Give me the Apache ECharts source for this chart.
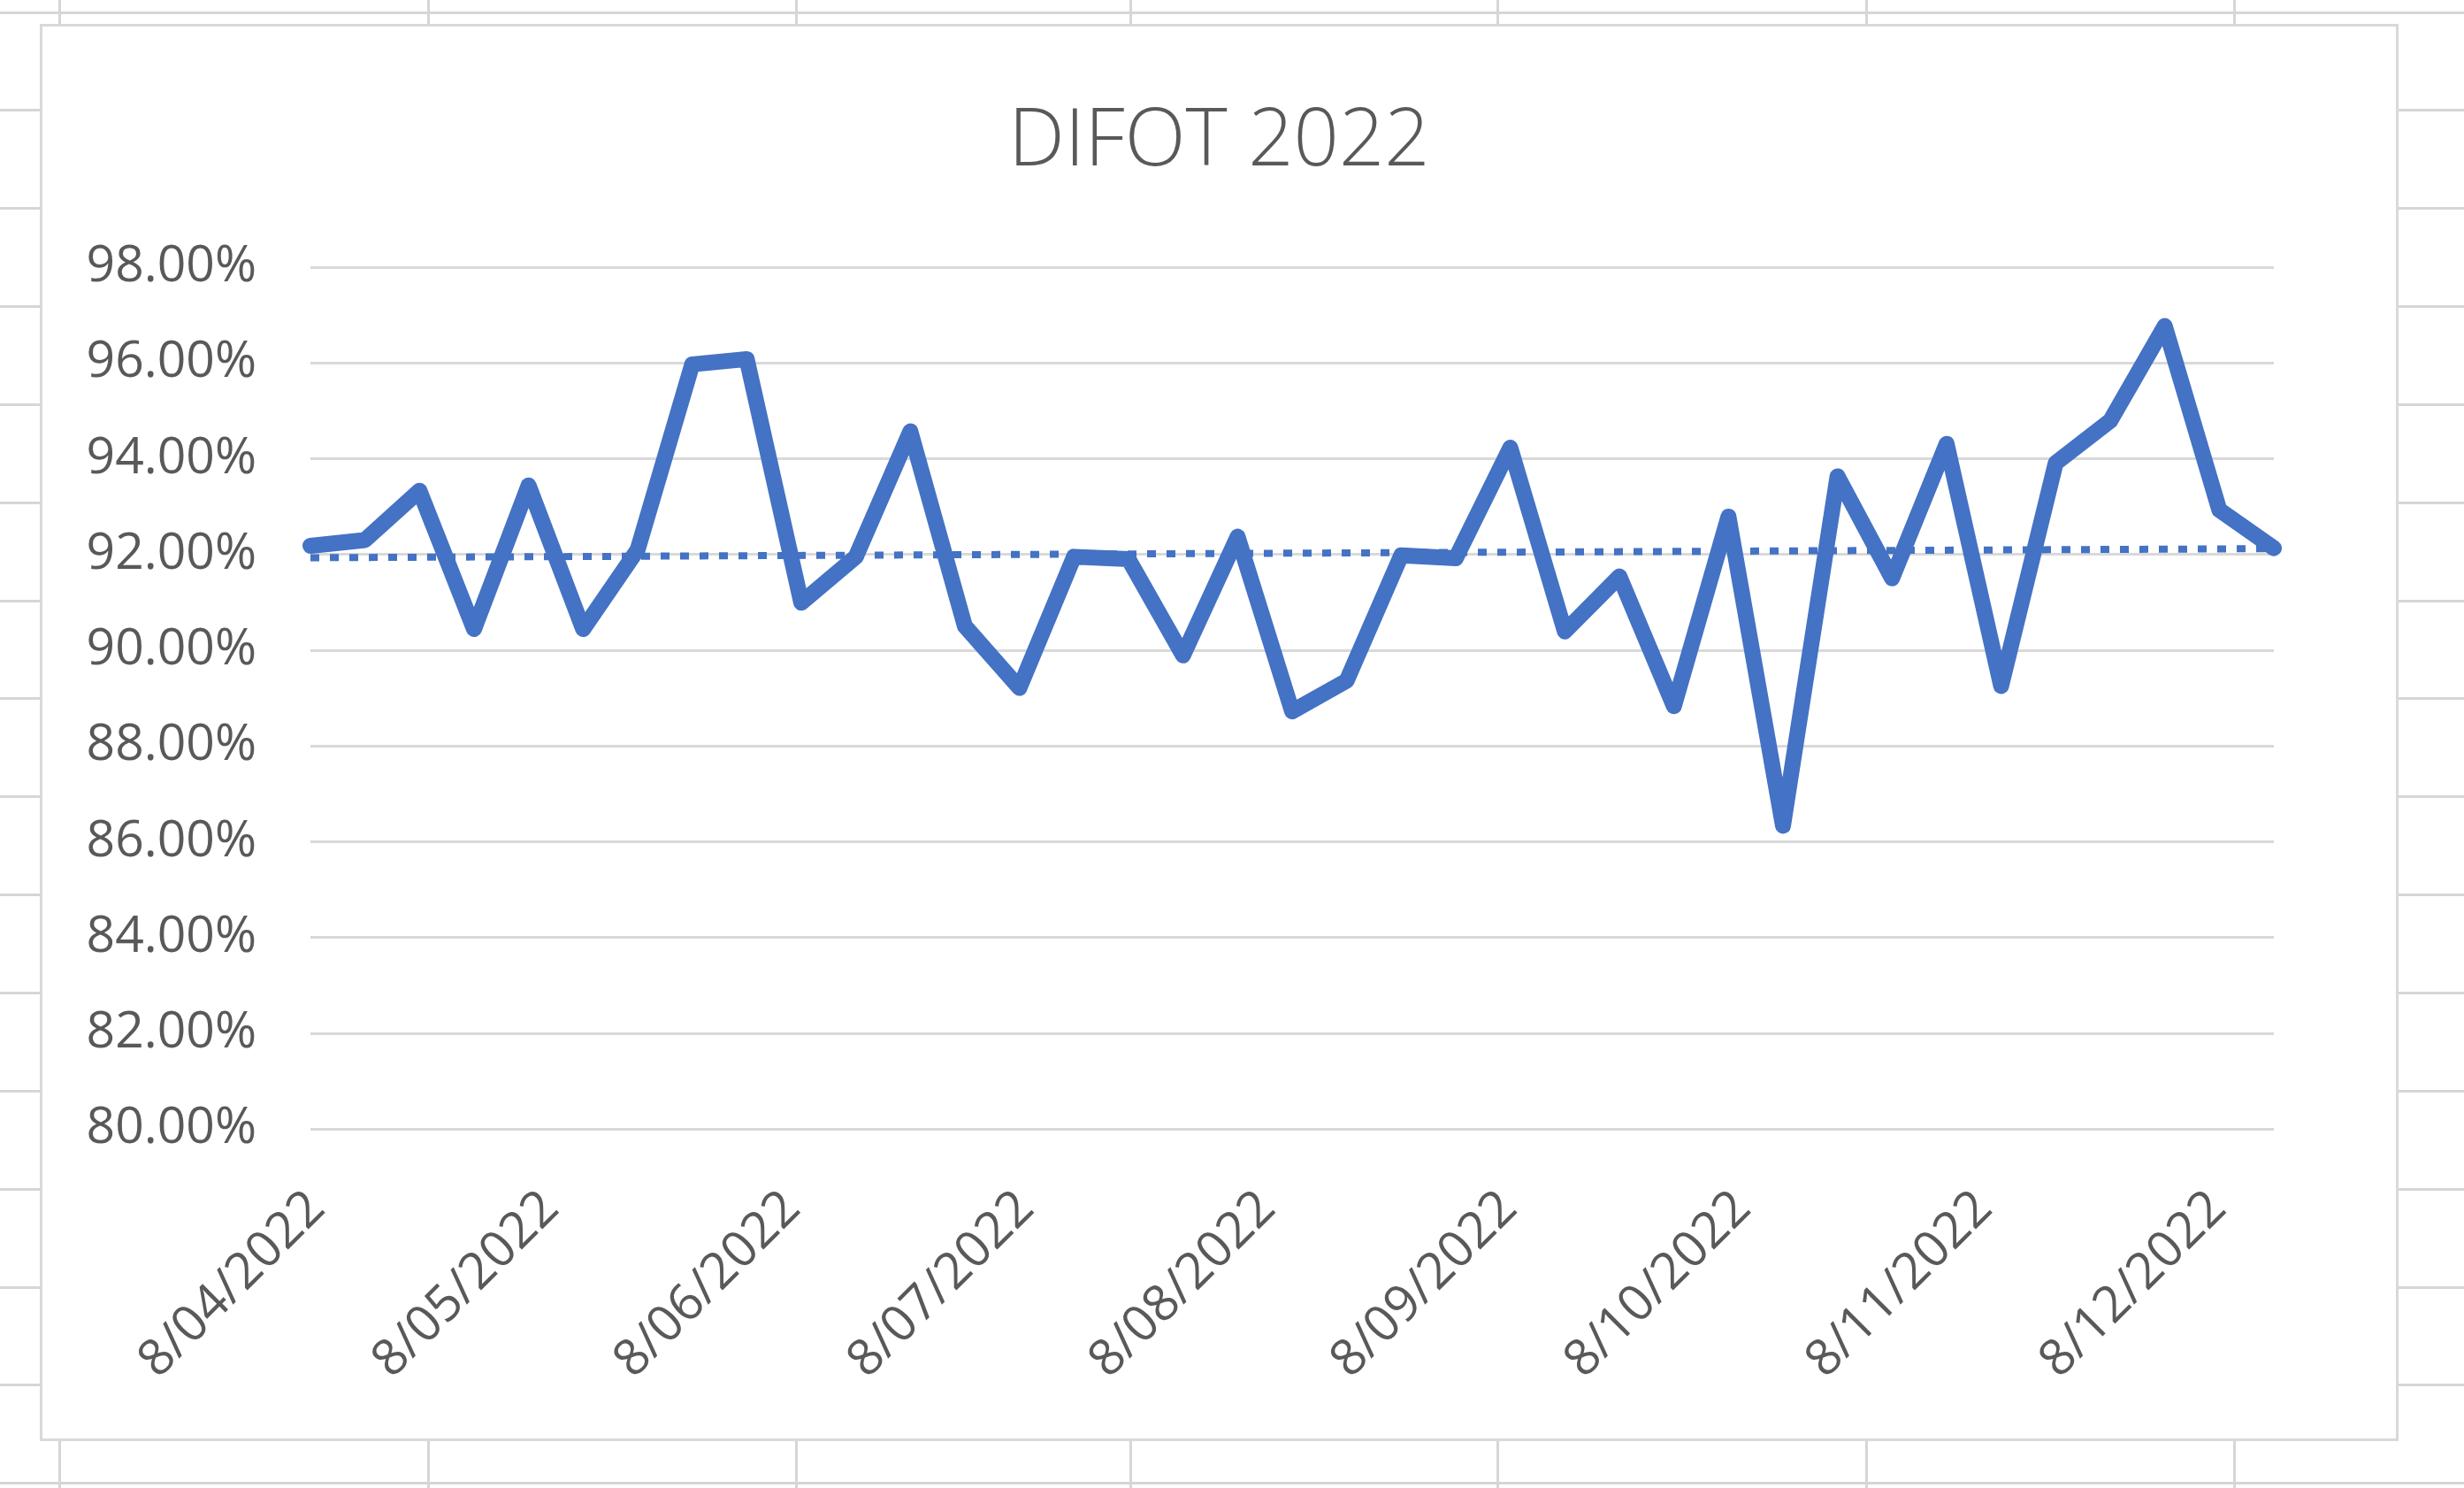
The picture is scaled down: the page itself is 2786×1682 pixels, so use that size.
<!DOCTYPE html>
<html>
<head>
<meta charset="utf-8">
<script src="https://cdn.jsdelivr.net/npm/echarts@6/dist/echarts.min.js"></script>
<style>
html, body { margin: 0; padding: 0; background: #ffffff; }
#sheet { position: absolute; left: 0; top: 0; width: 2786px; height: 1682px; overflow: hidden; background: #ffffff; }
.hl { position: absolute; left: 0; width: 2786px; height: 3px; background: #d6d6d6; }
.vl { position: absolute; top: 0; height: 1682px; width: 3px; background: #d6d6d6; }
#frame { position: absolute; left: 45px; top: 27px; width: 2667px; height: 1602px; box-sizing: border-box; border: 3px solid #d9d9d9; background: #ffffff; }
#chart { position: absolute; left: 46px; top: 28px; width: 2665px; height: 1600px; }
</style>
</head>
<body>
<div id="sheet"></div>
<div id="frame"></div>
<div id="chart"></div>
<script>
// ---- data ----
const weekDates = [
  '2022-04-08', '2022-04-15', '2022-04-22', '2022-04-29',
  '2022-05-06', '2022-05-13', '2022-05-20', '2022-05-27',
  '2022-06-03', '2022-06-10', '2022-06-17', '2022-06-24',
  '2022-07-01', '2022-07-08', '2022-07-15', '2022-07-22', '2022-07-29',
  '2022-08-05', '2022-08-12', '2022-08-19', '2022-08-26',
  '2022-09-02', '2022-09-09', '2022-09-16', '2022-09-23', '2022-09-30',
  '2022-10-07', '2022-10-14', '2022-10-21', '2022-10-28',
  '2022-11-04', '2022-11-11', '2022-11-18', '2022-11-25',
  '2022-12-02', '2022-12-09', '2022-12-16'
];
const difotPct = [
  92.18, 92.30, 93.33, 90.44,
  93.44, 90.44, 92.10, 95.97,
  96.08, 90.99, 91.95, 94.57,
  90.50, 89.21, 91.95, 91.90, 89.89,
  92.37, 88.72, 89.36, 91.98,
  91.92, 94.23, 90.39, 91.54, 88.83,
  92.79, 86.33, 93.63, 91.50,
  94.31, 89.25, 93.91, 94.79,
  96.77, 92.93, 92.13
];
// linear trendline end values (first date, last date)
const trendEnds = [91.93, 92.12];
const dateTickLabels = [
  '8/04/2022', '8/05/2022', '8/06/2022', '8/07/2022', '8/08/2022',
  '8/09/2022', '8/10/2022', '8/11/2022', '8/12/2022'
];
const yMin = 80, yMax = 98, yStep = 2;
const chartTitle = 'DIFOT 2022';

// ---- spreadsheet background (layout only) ----
const sheetRowStart = 14, sheetRowStep = 110.85, sheetRowCount = 16;
const sheetColX = [67, 484, 900, 1278, 1693, 2110, 2526];
const sheet = document.getElementById('sheet');
for (let i = 0; i < sheetRowCount; i++) {
  const d = document.createElement('div');
  d.className = 'hl';
  d.style.top = (sheetRowStart + i * sheetRowStep - 1.5) + 'px';
  sheet.appendChild(d);
}
sheetColX.forEach(x => {
  const d = document.createElement('div');
  d.className = 'vl';
  d.style.left = (x - 1.5) + 'px';
  sheet.appendChild(d);
});

// ---- helpers ----
function isoToTime(s) {
  const p = s.split('-').map(Number);
  return Date.UTC(p[0], p[1] - 1, p[2]);
}
function dmyToTime(s) {
  const p = s.split('/').map(Number);
  return Date.UTC(p[2], p[1] - 1, p[0]);
}
const xTimes = weekDates.map(isoToTime);
const tickTimes = dateTickLabels.map(dmyToTime);
const tickLabelByTime = {};
tickTimes.forEach((t, i) => { tickLabelByTime[t] = dateTickLabels[i]; });

const lineData = xTimes.map((t, i) => [t, difotPct[i]]);
const trendData = [[xTimes[0], trendEnds[0]], [xTimes[xTimes.length - 1], trendEnds[1]]];

const FONT = '"Open Sans", "Noto Sans", "Liberation Sans", sans-serif';
const TEXT_COLOR = '#595959';
const BLUE = '#4472C4';

const chart = echarts.init(document.getElementById('chart'), null, { renderer: 'canvas' });
chart.setOption({
  backgroundColor: 'transparent',
  animation: false,
  title: {
    text: chartTitle,
    left: 'center',
    top: 83,
    textStyle: {
      fontFamily: FONT,
      fontSize: 90,
      fontWeight: 300,
      color: TEXT_COLOR
    }
  },
  grid: {
    left: 305,
    top: 274,
    width: 2220,
    height: 974,
    containLabel: false
  },
  xAxis: {
    type: 'value',
    min: xTimes[0],
    max: xTimes[xTimes.length - 1],
    scale: true,
    axisLine: { show: false },
    axisTick: { show: false },
    splitLine: { show: false },
    axisLabel: {
      customValues: tickTimes,
      rotate: 45,
      align: 'right',
      verticalAlign: 'top',
      padding: [0, 18, 0, 0],
      margin: 48,
      fontFamily: FONT,
      fontSize: 57,
      color: TEXT_COLOR,
      hideOverlap: false,
      formatter: function (v) { return tickLabelByTime[v] || ''; }
    }
  },
  yAxis: {
    type: 'value',
    min: yMin,
    max: yMax,
    interval: yStep,
    axisLine: { show: false },
    axisTick: { show: false },
    splitLine: { show: true, lineStyle: { color: '#d9d9d9', width: 3 } },
    axisLabel: {
      margin: 61,
      fontFamily: FONT,
      fontSize: 57,
      color: TEXT_COLOR,
      formatter: function (v) { return v.toFixed(2) + '%'; }
    }
  },
  series: [
    {
      name: 'Linear (DIFOT)',
      type: 'line',
      data: trendData,
      symbol: 'none',
      silent: true,
      z: 2,
      lineStyle: { color: BLUE, width: 8, type: [10, 12] }
    },
    {
      name: 'DIFOT',
      type: 'line',
      data: lineData,
      symbol: 'none',
      z: 3,
      lineStyle: { color: BLUE, width: 18, join: 'round', cap: 'round' }
    }
  ]
});
</script>
</body>
</html>
